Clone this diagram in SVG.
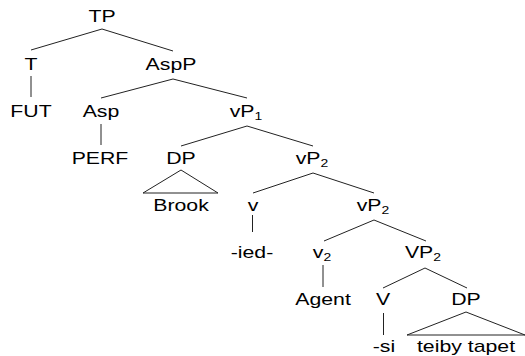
<svg xmlns="http://www.w3.org/2000/svg" width="525" height="356" viewBox="0 0 525 356">
  <style>
    text { font-family: "Liberation Sans", Arial, Helvetica, sans-serif; font-size: 16px; fill: #000; text-anchor: middle; }
    .sub { font-size: 10.5px; }
    .edge { stroke: #222; stroke-width: 1; fill: none; }
  </style>
  <rect width="525" height="356" fill="#fff"/>

  <!-- branches and triangles -->
  <g id="connectors" class="edge">
    <line x1="102" y1="29" x2="31" y2="50"/>
    <line x1="102" y1="29" x2="173" y2="51"/>
    <line x1="31" y1="76" x2="31" y2="97"/>
    <line x1="173" y1="79" x2="101" y2="98"/>
    <line x1="173" y1="79" x2="247" y2="98"/>
    <line x1="101" y1="124" x2="101" y2="145"/>
    <line x1="247" y1="126" x2="181" y2="146"/>
    <line x1="247" y1="126" x2="313" y2="146"/>
    <polygon points="181,170 143,193 218,193"/>
    <line x1="313" y1="173" x2="253" y2="193"/>
    <line x1="313" y1="173" x2="374" y2="193"/>
    <line x1="252.5" y1="215" x2="252.5" y2="232"/>
    <line x1="374" y1="220" x2="324" y2="241"/>
    <line x1="374" y1="220" x2="426" y2="241"/>
    <line x1="323" y1="265" x2="323" y2="287"/>
    <line x1="425" y1="268" x2="383" y2="288"/>
    <line x1="425" y1="268" x2="467" y2="288"/>
    <line x1="383.5" y1="313" x2="383.5" y2="335"/>
    <polygon points="466,312 407,335 525,335"/>
  </g>

  <g id="TP"><text transform="translate(102 22) scale(1.33 1)">TP</text></g>
  <g id="T"><text transform="translate(31 70) scale(1.33 1)">T</text></g>
  <g id="AspP"><text transform="translate(171 70) scale(1.33 1)">AspP</text></g>
  <g id="FUT"><text transform="translate(31 117) scale(1.33 1)">FUT</text></g>
  <g id="Asp"><text transform="translate(101 117) scale(1.33 1)">Asp</text></g>
  <g id="vP1"><text transform="translate(246 117) scale(1.33 1)">vP<tspan class="sub" dy="3">1</tspan></text></g>
  <g id="PERF"><text transform="translate(100 164) scale(1.33 1)">PERF</text></g>
  <g id="DP1"><text transform="translate(181 164) scale(1.33 1)">DP</text></g>
  <g id="vP2-upper"><text transform="translate(312 164) scale(1.33 1)">vP<tspan class="sub" dy="3">2</tspan></text></g>
  <g id="Brook"><text transform="translate(181 211) scale(1.33 1)">Brook</text></g>
  <g id="v"><text transform="translate(253 211) scale(1.33 1)">v</text></g>
  <g id="vP2-lower"><text transform="translate(373 211) scale(1.33 1)">vP<tspan class="sub" dy="3">2</tspan></text></g>
  <g id="ied"><text transform="translate(252 258) scale(1.33 1)">-ied-</text></g>
  <g id="v2"><text transform="translate(322 258) scale(1.33 1)">v<tspan class="sub" dy="3">2</tspan></text></g>
  <g id="VP2"><text transform="translate(423 258) scale(1.33 1)">VP<tspan class="sub" dy="3">2</tspan></text></g>
  <g id="Agent"><text transform="translate(323 305) scale(1.33 1)">Agent</text></g>
  <g id="V"><text transform="translate(383 305) scale(1.33 1)">V</text></g>
  <g id="DP2"><text transform="translate(466 305) scale(1.33 1)">DP</text></g>
  <g id="si"><text transform="translate(384 352) scale(1.33 1)">-si</text></g>
  <g id="teiby-tapet"><text transform="translate(466 352) scale(1.33 1)">teiby tapet</text></g>
</svg>
